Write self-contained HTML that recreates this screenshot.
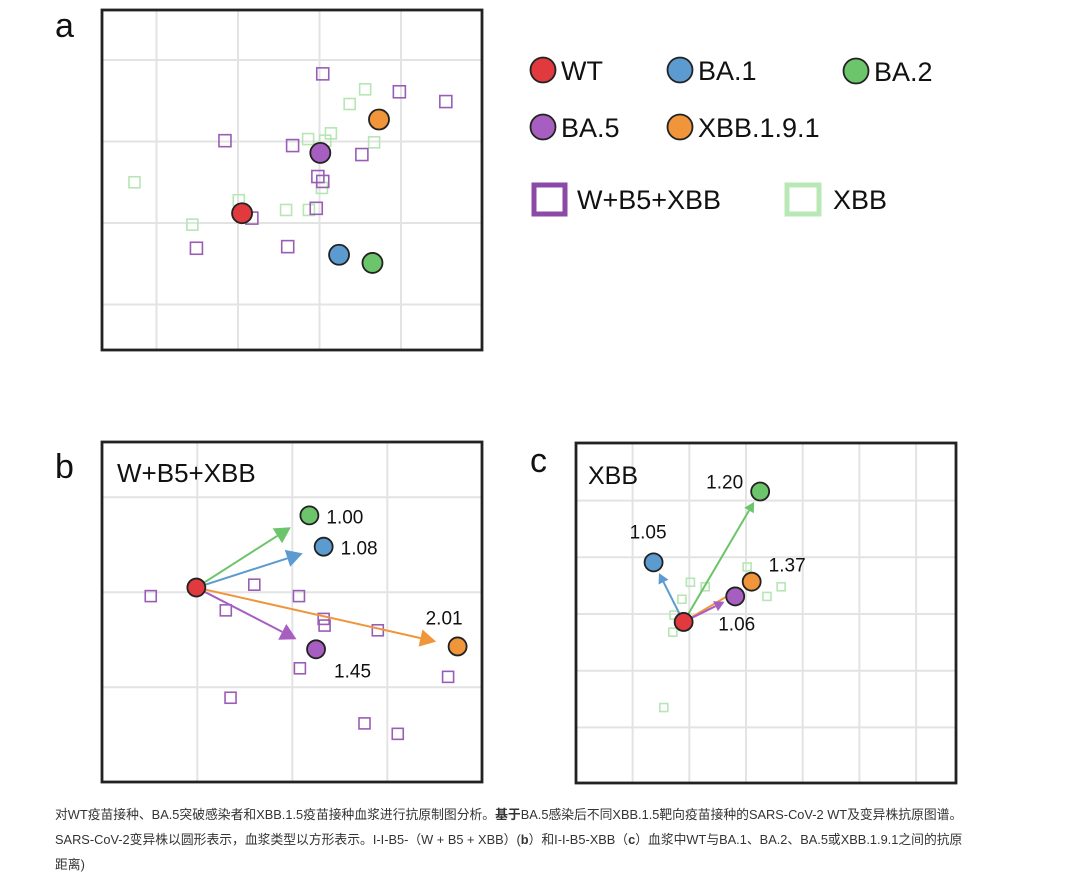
<!DOCTYPE html>
<html><head><meta charset="utf-8">
<style>
html,body{margin:0;padding:0;background:#fff;}
body{width:1080px;height:875px;overflow:hidden;position:relative;font-family:"Liberation Sans","Noto Sans CJK SC",sans-serif;}
svg{position:absolute;left:0;top:0;}
.cap{position:absolute;left:55px;top:802px;width:1020px;font-size:12.8px;line-height:25px;color:#333;font-family:"Liberation Sans","Noto Sans CJK SC",sans-serif;white-space:nowrap;}
</style></head>
<body>
<svg id="fig" width="1080" height="875" xmlns="http://www.w3.org/2000/svg"></svg>
<div class="cap">对WT疫苗接种、BA.5突破感染者和XBB.1.5疫苗接种血浆进行抗原制图分析。<b>基于</b>BA.5感染后不同XBB.1.5靶向疫苗接种的SARS-CoV-2 WT及变异株抗原图谱。<br>SARS-CoV-2变异株以圆形表示，血浆类型以方形表示。I-I-B5-（W + B5 + XBB）(<b>b</b>）和I-I-B5-XBB（<b>c</b>）血浆中WT与BA.1、BA.2、BA.5或XBB.1.9.1之间的抗原<br>距离)</div>
<script>
// ---- data (antigenic units, relative to each panel's grid origin) ----
const variantNames = ["WT","BA.1","BA.2","BA.5","XBB.1.9.1"];
const variantColors = ["#e0393e","#5b9bd0","#6cc56a","#a65fc0","#f0953a"];
const aVariantX = [0.05, 1.24, 1.65, 1.01, 1.73];
const aVariantY = [0.12, -0.39, -0.49, 0.86, 1.27];
const aPurpleX = [1.04,1.98,2.55,-0.16,0.67,1.52,0.98,1.04,0.96,0.17,-0.51,0.61];
const aPurpleY = [1.83,1.61,1.49,1.01,0.95,0.84,0.57,0.51,0.18,0.06,-0.31,-0.29];
const aGreenX = [1.56,1.37,1.14,0.86,1.07,1.67,-1.27,1.03,0.01,0.59,0.87,-0.56];
const aGreenY = [1.64,1.46,1.10,1.03,1.01,0.99,0.50,0.43,0.28,0.16,0.16,-0.02];
const bVariantX = [-0.01, 1.33, 1.18, 1.25, 2.74];
const bVariantY = [0.05, 0.48, 0.81, -0.60, -0.57];
const bDistances = ["", "1.08", "1.00", "1.45", "2.01"];
const bPurpleX = [-0.49,0.60,1.07,0.30,1.33,1.34,1.90,1.08,2.64,0.35,1.76,2.11];
const bPurpleY = [-0.04,0.08,-0.04,-0.19,-0.28,-0.35,-0.40,-0.80,-0.89,-1.11,-1.38,-1.49];
const cVariantX = [-0.10, -0.63, 1.25, 0.81, 1.10];
const cVariantY = [-0.14, 0.91, 2.16, 0.31, 0.57];
const cDistances = ["", "1.05", "1.20", "1.06", "1.37"];
const cGreenX = [1.02,0.02,0.28,-0.13,-0.27,0.85,1.37,1.62,-0.29,-0.45];
const cGreenY = [0.83,0.56,0.48,0.26,-0.02,0.29,0.31,0.48,-0.32,-1.65];

const NS="http://www.w3.org/2000/svg";
const svg=document.getElementById('fig');
function mk(tag,attrs,parent){const e=document.createElementNS(NS,tag);for(const k in attrs)e.setAttribute(k,attrs[k]);(parent||svg).appendChild(e);return e;}
function txt(x,y,s,size,parent,anchor){const t=mk('text',{x:x,y:y,'font-size':size,'font-family':'Liberation Sans, sans-serif',fill:'#111','text-anchor':anchor||'start'},parent);t.textContent=s;return t;}

function panel(id,box,ox,oy,unit){
  const g=mk('g',{});
  
  
  const cp=mk('clipPath',{id:'clip-'+id},g);
  mk('rect',{x:box[0],y:box[1],width:box[2]-box[0],height:box[3]-box[1]},cp);
  const inner=mk('g',{'clip-path':'url(#clip-'+id+')'},g);
  for(let k=-10;k<=10;k++){
    const x=ox+k*unit;
    if(x>box[0]+2&&x<box[2]-2){const l=mk('line',{x1:x,y1:box[1],x2:x,y2:box[3],stroke:'#e3e3e3','stroke-width':2},inner);
      }
    const y=oy+k*unit;
    if(y>box[1]+2&&y<box[3]-2){const l=mk('line',{x1:box[0],y1:y,x2:box[2],y2:y,stroke:'#e3e3e3','stroke-width':2},inner);
      }
  }
  const fr=mk('rect',{x:box[0],y:box[1],width:box[2]-box[0],height:box[3]-box[1],fill:'none',stroke:'#222','stroke-width':2.8},g);
  
  return {g:inner,outer:g,sx:v=>ox+v*unit,sy:v=>oy-v*unit};
}
function squares(p,xs,ys,color,size,name){
  for(let i=0;i<xs.length;i++){
    const r=mk('rect',{x:p.sx(xs[i])-size/2,y:p.sy(ys[i])-size/2,width:size,height:size,fill:'none',stroke:color,'stroke-width':1.6},p.g);
    
  }
}
function circles(p,xs,ys,r,order){
  for(const i of order){
    const c=mk('circle',{cx:p.sx(xs[i]),cy:p.sy(ys[i]),r:r,fill:variantColors[i],stroke:'#222','stroke-width':1.8},p.g);
    
    
  }
}
function arrow(p,x0,y0,x1,y1,color,shorten,head){
  const X0=p.sx(x0),Y0=p.sy(y0),X1=p.sx(x1),Y1=p.sy(y1);
  const dx=X1-X0,dy=Y1-Y0,L=Math.hypot(dx,dy),ux=dx/L,uy=dy/L;
  const tx=X1-ux*shorten,ty=Y1-uy*shorten;
  const bx=tx-ux*head,by=ty-uy*head;
  const l=mk('line',{x1:X0,y1:Y0,x2:bx,y2:by,stroke:color,'stroke-width':2},p.g);
  
  const w=head*0.55;
  const h=mk('polygon',{points:`${tx},${ty} ${bx-uy*w},${by+ux*w} ${bx+uy*w},${by-ux*w}`,fill:color},p.g);
  
}

// panel letters
[['a',55,37],['b',55,478],['c',530,472]].forEach(([s,x,y])=>{const t=txt(x,y,s,34);});

// Panel a
const pa=panel('a',[102,10,482,350],238,223,81.5);
squares(pa,aGreenX,aGreenY,'#b5e6b3',11,'serum-xbb');
squares(pa,aPurpleX,aPurpleY,'#9a5db5',12,'serum-w-b5-xbb');
circles(pa,aVariantX,aVariantY,10,[0,1,2,3,4]);

// Legend
const lg=mk('g',{});
const legPos=[[543,70],[680,70],[856,71],[543,127],[680,127]];
for(let i=0;i<5;i++){
  const c=mk('circle',{cx:legPos[i][0],cy:legPos[i][1],r:12.5,fill:variantColors[i],stroke:'#222','stroke-width':1.8},lg);
  
  const t=txt(legPos[i][0]+18,legPos[i][1]+10,variantNames[i],27,lg);
  
}
const ls1=mk('rect',{x:534,y:185,width:31,height:29,fill:'none',stroke:'#8b4aa8','stroke-width':5},lg);

const lt1=txt(577,209,'W+B5+XBB',27,lg);
const ls2=mk('rect',{x:787,y:185,width:32,height:29,fill:'none',stroke:'#b8e8b5','stroke-width':5},lg);

const lt2=txt(833,209,'XBB',27,lg);

// Panel b
const pb=panel('b',[102,442,482,782],197.3,592.3,95);
squares(pb,bPurpleX,bPurpleY,'#9a5db5',11,'serum-w-b5-xbb');
[2,1,3,4].forEach(i=>arrow(pb,bVariantX[0],bVariantY[0],bVariantX[i],bVariantY[i],variantColors[i],22,16));
circles(pb,bVariantX,bVariantY,9,[0,1,2,3,4]);
const bOff=[[0,0],[17,8],[17,8],[18,28],[-32,-22]];
for(let i=1;i<5;i++){const t=txt(pb.sx(bVariantX[i])+bOff[i][0],pb.sy(bVariantY[i])+bOff[i][1],bDistances[i],19,pb.outer);}
const tb=txt(117,482,'W+B5+XBB',26,pb.outer);

// Panel c
const pc=panel('c',[576,443,956,783],689.3,614,56.7);
squares(pc,cGreenX,cGreenY,'#b5e6b3',8,'serum-xbb');
[1,2,4,3].forEach(i=>arrow(pc,cVariantX[0],cVariantY[0],cVariantX[i],cVariantY[i],variantColors[i],12,10));
circles(pc,cVariantX,cVariantY,9,[0,3,4,1,2]);
const cOff=[[0,0],[-24,-24],[-54,-3],[-17,34],[17,-10]];
for(let i=1;i<5;i++){const t=txt(pc.sx(cVariantX[i])+cOff[i][0],pc.sy(cVariantY[i])+cOff[i][1],cDistances[i],19,pc.outer);}
const tc=txt(588,484,'XBB',25,pc.outer);
</script>
</body></html>
